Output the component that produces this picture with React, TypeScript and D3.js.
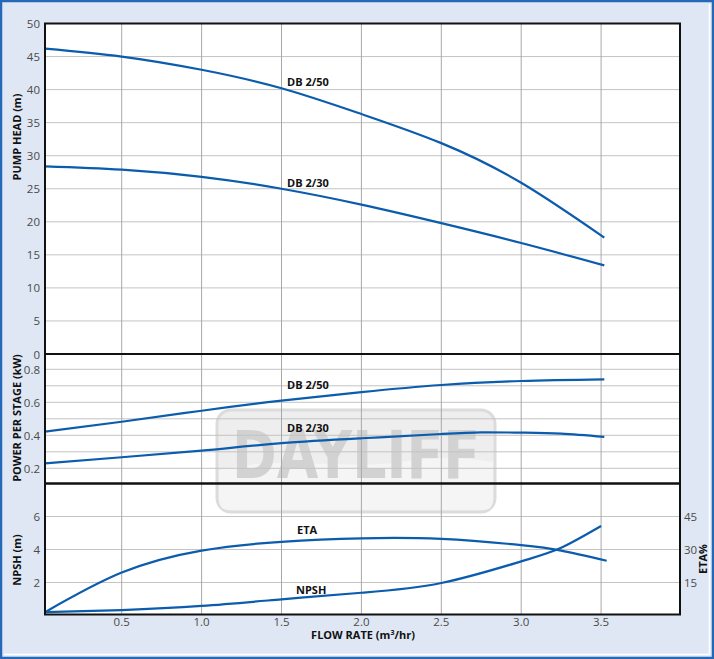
import React from 'react';
import * as d3 from 'd3';

// ---------- DATA ----------
const headFlow50 = [0.02, 0.5, 1.0, 1.5, 2.0, 2.5, 3.0, 3.52];
const head50 = [46.2, 45.0, 43.0, 40.2, 36.3, 31.9, 25.9, 17.6];
const headFlow30 = [0.02, 0.5, 1.0, 1.5, 2.0, 2.5, 3.0, 3.52];
const head30 = [28.4, 27.9, 26.8, 25.0, 22.6, 19.8, 16.8, 13.4];

const powerFlow50 = [0.02, 0.5, 1.0, 1.5, 2.0, 2.5, 3.0, 3.52];
const power50 = [0.422, 0.482, 0.549, 0.61, 0.662, 0.705, 0.729, 0.739];
const powerFlow30 = [0.02, 0.5, 1.0, 1.5, 2.0, 2.5, 2.75, 3.0, 3.25, 3.52];
const power30 = [0.23, 0.267, 0.307, 0.352, 0.382, 0.408, 0.418, 0.416, 0.41, 0.39];

const npshFlow = [0.02, 0.5, 1.0, 1.5, 2.0, 2.5, 3.0, 3.25, 3.5];
const npsh = [0.2, 0.33, 0.58, 0.98, 1.38, 1.97, 3.28, 4.1, 5.42];
const etaFlow = [0.02, 0.5, 1.0, 1.5, 2.0, 2.5, 3.0, 3.25, 3.535];
const eta = [1.5, 19.5, 29.5, 33.5, 35.1, 34.8, 32.0, 29.5, 24.9];

const xTicks = [0.5, 1.0, 1.5, 2.0, 2.5, 3.0, 3.5];
const headTicks = [0, 5, 10, 15, 20, 25, 30, 35, 40, 45, 50];
const powerTicks = [0.2, 0.4, 0.6, 0.8];
const powerGrid = [0.2, 0.3, 0.4, 0.5, 0.6, 0.7, 0.8];
const npshTicks = [2, 4, 6];
const etaTicks = [15, 30, 45];

// ---------- LAYOUT ----------
const W = 714, H = 659;
const L = 45, R = 680;
const T1 = 23.5, B1 = 354, B2 = 483.5, B3 = 614.5;
const BLUE = '#0b5cad';
const FONT = '"Open Sans", "DejaVu Sans", sans-serif';

const x = d3.scaleLinear().domain([0, 4]).range([41.8, 681]);
const yHead = d3.scaleLinear().domain([0, 50]).range([B1, T1]);
const yPow = d3.scaleLinear().domain([0.1, 0.9]).range([484.8, 352.8]);
const yNpsh = d3.scaleLinear().domain([0, 8]).range([615.5, 483.5]);
const yEta = d3.scaleLinear().domain([0, 60]).range([615.5, 483.5]);

function path(xs: number[], ys: number[], ys2: d3.ScaleLinear<number, number>) {
  const pts = xs.map((v, i) => [v, ys[i]] as [number, number]);
  return d3.line<[number, number]>()
    .x(d => x(d[0]))
    .y(d => ys2(d[1]))
    .curve(d3.curveNatural)(pts) || '';
}

export default function App() {
  const tickStyle = { fontFamily: FONT, fontSize: 11.5, fill: '#4a4a4a' } as const;
  const boldStyle = { fontFamily: FONT, fontSize: 11, fontWeight: 700, fill: '#111' } as const;
  return (
    <svg width={W} height={H} style={{ position: 'absolute', left: 0, top: 0, display: 'block' }}>
      <rect x={0} y={0} width={W} height={H} fill="#dfe7f4" />
      <rect x={1} y={1} width={W - 2} height={H - 2} fill="none" stroke="#2468b8" strokeWidth={2.5} />
      <line x1={4} x2={W - 4.5} y1={H - 4.5} y2={H - 4.5} stroke="#fff" strokeWidth={1.5} />
      <line x1={W - 4.5} x2={W - 4.5} y1={4} y2={H - 4.5} stroke="#fff" strokeWidth={1.5} />

      {/* plot background */}
      <rect x={L} y={T1} width={R - L} height={B3 - T1} fill="#fff" />

      {/* watermark */}
      <g>
        <rect x={217} y={410} width={278} height={102} rx={14} fill="#eeeeee" stroke="#dcdcdc" strokeWidth={3} />
        <path d="M219,470 C280,455 340,470 400,462 C440,456 470,458 493,462 L493,500 Q493,510 483,510 L229,510 Q219,510 219,500 Z" fill="#f5f5f5" />
        <text x={356} y={478} textAnchor="middle" fontFamily='"DejaVu Sans", sans-serif' fontWeight={900} fontSize={66}
          fill="#d2d2d2" textLength={248} lengthAdjust="spacingAndGlyphs">DAYLIFF</text>
      </g>

      {/* horizontal grids */}
      {headTicks.filter(t => t > 0 && t < 50).map(t => (
        <line key={'h' + t} x1={L} x2={R} y1={yHead(t)} y2={yHead(t)} stroke="#c4c4c4" strokeWidth={1} />
      ))}
      {powerGrid.map(t => (
        <line key={'p' + t} x1={L} x2={R} y1={yPow(t)} y2={yPow(t)} stroke="#c4c4c4" strokeWidth={1} />
      ))}
      {npshTicks.map(t => (
        <line key={'n' + t} x1={L} x2={R} y1={yNpsh(t)} y2={yNpsh(t)} stroke="#c4c4c4" strokeWidth={1} />
      ))}
      {/* vertical grids */}
      {xTicks.map(t => (
        <line key={'v' + t} x1={x(t)} x2={x(t)} y1={T1} y2={B3} stroke="#a8a8a8" strokeWidth={1} />
      ))}

      {/* curves */}
      <g fill="none" stroke={BLUE} strokeWidth={2.2} strokeLinecap="butt">
        <path d={path(headFlow50, head50, yHead)} />
        <path d={path(headFlow30, head30, yHead)} />
        <path d={path(powerFlow50, power50, yPow)} />
        <path d={path(powerFlow30, power30, yPow)} />
        <path d={path(npshFlow, npsh, yNpsh)} />
        <path d={path(etaFlow, eta, yEta)} />
      </g>

      {/* frames */}
      <g fill="none" stroke="#111" strokeWidth={2}>
        <rect x={L} y={T1} width={R - L} height={B1 - T1} />
        <rect x={L} y={B1} width={R - L} height={B2 - B1} />
        <rect x={L} y={B2} width={R - L} height={B3 - B2} />
      </g>

      {/* curve labels */}
      <text x={287} y={86} {...boldStyle}>DB 2/50</text>
      <text x={287} y={187} {...boldStyle}>DB 2/30</text>
      <text x={287} y={389} {...boldStyle}>DB 2/50</text>
      <text x={287} y={432} {...boldStyle}>DB 2/30</text>
      <text x={297} y={534} {...boldStyle}>ETA</text>
      <text x={296} y={594} {...boldStyle}>NPSH</text>

      {/* tick labels */}
      {headTicks.map(t => (
        <text key={'th' + t} x={40} y={yHead(t) + 4.5} textAnchor="end" {...tickStyle}>{t}</text>
      ))}
      {powerTicks.map(t => (
        <text key={'tp' + t} x={40} y={yPow(t) + 4.5} textAnchor="end" {...tickStyle}>{t.toFixed(1)}</text>
      ))}
      {npshTicks.map(t => (
        <text key={'tn' + t} x={40} y={yNpsh(t) + 4.5} textAnchor="end" {...tickStyle}>{t}</text>
      ))}
      {etaTicks.map(t => (
        <text key={'te' + t} x={684} y={yEta(t) + 4.5} textAnchor="start" {...tickStyle}>{t}</text>
      ))}
      {xTicks.map(t => (
        <text key={'tx' + t} x={x(t)} y={625.5} textAnchor="middle" {...tickStyle}>{t.toFixed(1)}</text>
      ))}

      {/* axis titles */}
      <text transform="translate(21,137) rotate(-90)" textAnchor="middle" {...boldStyle}>PUMP HEAD (m)</text>
      <text transform="translate(21,418) rotate(-90)" textAnchor="middle" {...boldStyle}>POWER PER STAGE (kW)</text>
      <text transform="translate(21,560) rotate(-90)" textAnchor="middle" {...boldStyle}>NPSH (m)</text>
      <text transform="translate(707,559) rotate(-90)" textAnchor="middle" {...boldStyle}>ETA%</text>
      <text x={363} y={639} textAnchor="middle" {...boldStyle}>
        FLOW RATE (m<tspan fontSize={7} dy={-4}>3</tspan><tspan dy={4}>/hr)</tspan>
      </text>
    </svg>
  );
}
